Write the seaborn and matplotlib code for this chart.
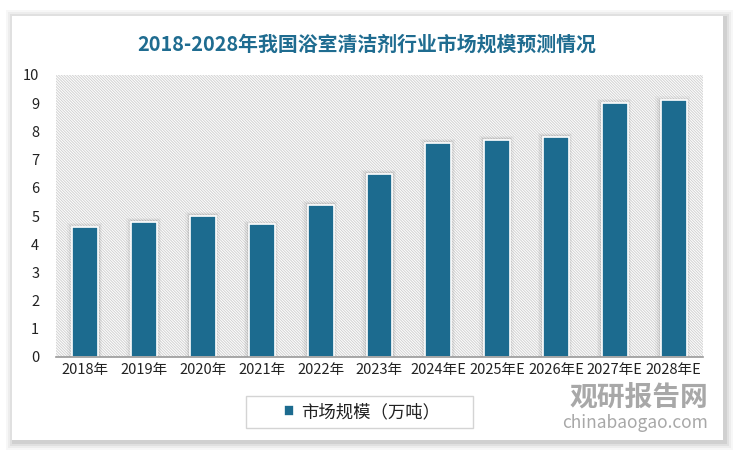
import matplotlib
matplotlib.use("Agg")
import matplotlib.pyplot as plt
import seaborn as sns
import pandas as pd
from matplotlib.patches import Rectangle

categories = ["2018年", "2019年", "2020年", "2021年", "2022年", "2023年",
              "2024年E", "2025年E", "2026年E", "2027年E", "2028年E"]
values = [4.6, 4.8, 5.0, 4.7, 5.4, 6.5, 7.6, 7.7, 7.8, 9.0, 9.1]
series_name = "市场规模（万吨）"
title = "2018-2028年我国浴室清洁剂行业市场规模预测情况"
yticks = [0, 1, 2, 3, 4, 5, 6, 7, 8, 9, 10]

sns.set_theme(style="white")
plt.rcParams['font.family'] = ['Noto Sans CJK SC', 'DejaVu Sans']
plt.rcParams['hatch.linewidth'] = 0.7

df = pd.DataFrame({"year": categories, "value": values, "series": series_name})

W, H = 737, 454
fig = plt.figure(figsize=(W / 100, H / 100), dpi=100)
fig.patch.set_facecolor("white")

def fx(x):
    return x / W

def fy(y):
    return 1 - y / H

# card with soft shadow
cx0, cy0, cx1, cy1 = 12, 16, 723, 440
for i, a in enumerate([0.03, 0.04, 0.05, 0.07]):
    d = (4 - i) * 2
    fig.patches.append(Rectangle((fx(cx0 - d + 2), fy(cy1 + d + 2)),
                                 (cx1 - cx0 + 2 * d) / W, (cy1 - cy0 + 2 * d) / H,
                                 transform=fig.transFigure, facecolor="#000000",
                                 alpha=a, edgecolor="none", zorder=-3))
fig.patches.append(Rectangle((fx(cx0), fy(cy1)), (cx1 - cx0) / W, (cy1 - cy0) / H,
                             transform=fig.transFigure, facecolor="white",
                             edgecolor="none", zorder=-2))

ax = fig.add_axes([fx(56), fy(357), 647 / W, (357 - 75) / H])
ax.set_zorder(3)
ax.set_facecolor("none")
ax.add_patch(Rectangle((0, 0), 1, 1, transform=ax.transAxes, facecolor="white",
                       edgecolor="#d2d2d2", hatch="\\" * 12, linewidth=0, zorder=0))

bar_color = "#1c6b8f"
# soft shadows behind bars
for i, v in enumerate(values):
    for k, a in enumerate([0.09, 0.06, 0.04]):
        off = 0.05 + k * 0.05
        ax.add_patch(Rectangle((i - 0.22 - off * 0.6, 0), 0.44 + off, v + 0.06 + k * 0.04,
                               facecolor="#444444", alpha=a, edgecolor="none", zorder=1))

sns.barplot(data=df, x="year", y="value", hue="series", palette=[bar_color],
            width=0.44, edgecolor="white", linewidth=1.2, ax=ax, zorder=2, saturation=1)

ax.set_ylim(0, 10)
ax.set_xlim(-0.5, len(categories) - 0.5)
ax.set_yticks(yticks)
ax.set_yticklabels([str(t) for t in yticks], fontsize=10.5, color="#222222")
ax.tick_params(axis="x", labelsize=10.5, colors="#222222", length=0, pad=4)
ax.tick_params(axis="y", length=0, pad=12)
ax.set_xlabel("")
ax.set_ylabel("")
for s in ["top", "right", "left"]:
    ax.spines[s].set_visible(False)
ax.spines["bottom"].set_color("#999999")
ax.spines["bottom"].set_linewidth(1.2)

fig.text(fx(367), fy(44), title, ha="center", va="center", fontsize=14.3,
         fontweight="bold", color="#1f6c90")

# legend: frameless entry centred in a wider box
leg = ax.legend(loc="center", bbox_to_anchor=(fx(362), fy(412)),
                bbox_transform=fig.transFigure,
                frameon=False, fontsize=12.5, handlelength=0.6, handleheight=0.6,
                handletextpad=0.4, borderpad=0.3)
for t in leg.get_texts():
    t.set_color("#222222")
fig.patches.append(Rectangle((fx(246), fy(428)), (473 - 246) / W, (428 - 396) / H,
                             transform=fig.transFigure, facecolor="white",
                             edgecolor="#d4d4d4", linewidth=1, zorder=2))

# watermark
fig.text(fx(708), fy(398), "观研报告网", ha="right", va="center",
         fontsize=20, fontweight="bold", color="#929292", alpha=0.8, zorder=5)
fig.text(fx(708), fy(423), "chinabaogao.com", ha="right", va="center",
         fontsize=12.5, color="#929292", alpha=0.8, zorder=5)

fig.savefig("out.png", dpi=100)
